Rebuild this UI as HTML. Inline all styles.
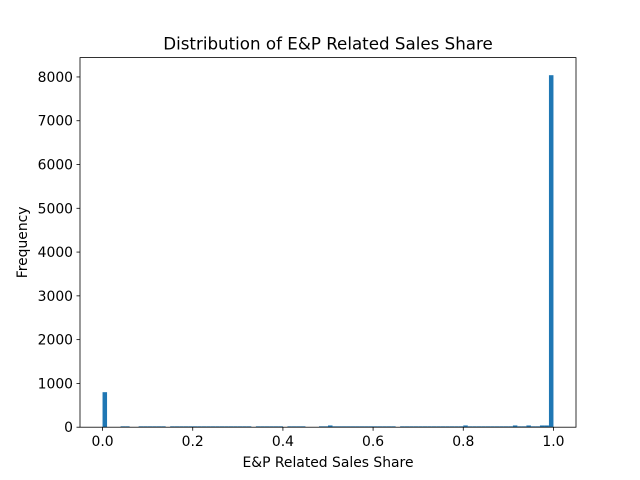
<!DOCTYPE html>
<html><head><meta charset="utf-8"><style>body{margin:0;background:#fff}svg{display:block}text{font-family:"DejaVu Sans","Liberation Sans",sans-serif;fill:#000}</style></head>
<body>
<svg id="chart" width="640" height="480" xmlns="http://www.w3.org/2000/svg"></svg>
<script>
const binCounts = [800,0,0,0,20,20,0,0,20,20,20,20,20,20,0,20,20,20,20,20,20,20,20,20,20,20,20,20,20,20,20,20,20,0,20,20,20,20,20,20,0,20,20,20,20,0,0,0,20,20,40,20,20,20,20,20,20,20,20,20,20,20,20,20,20,0,20,20,20,20,20,20,20,20,20,20,20,20,20,20,40,20,20,20,20,20,20,20,20,20,20,40,20,20,40,20,20,40,40,8040];
const xTicks = [0,0.2,0.4,0.6,0.8,1.0];
const xTickLabels = ["0.0","0.2","0.4","0.6","0.8","1.0"];
const yTicks = [0,1000,2000,3000,4000,5000,6000,7000,8000];
const L=80,R=576,T=57.6,B=427.2;
const xmin=-0.05,xmax=1.05;
const ymax=Math.max(...binCounts)*1.05;
const sx=v=>L+(v-xmin)/(xmax-xmin)*(R-L);
const sy=v=>B-v/ymax*(B-T);
const svg=document.getElementById('chart');
const NS='http://www.w3.org/2000/svg';
function mk(t,a,txt){const e=document.createElementNS(NS,t);for(const k in a)e.setAttribute(k,a[k]);if(txt!==undefined)e.textContent=txt;svg.appendChild(e);return e;}
const n=binCounts.length;
binCounts.forEach((c,i)=>{if(c<=0)return;const x0=sx(i/n),x1=sx((i+1)/n);
const r=mk('rect',{x:x0,y:sy(c),width:x1-x0,height:B-sy(c),fill:'#1f77b4'});

});
const f=mk('rect',{x:L,y:T,width:R-L,height:B-T,fill:'none',stroke:'#000','stroke-width':0.8});


xTicks.forEach((v,i)=>{const x=sx(v);mk('line',{x1:x,x2:x,y1:B,y2:B+3.5,stroke:'#000','stroke-width':0.8});
const t=mk('text',{x:x,y:B+19,'font-size':13.9,'text-anchor':'middle'},xTickLabels[i]);

});
yTicks.forEach(v=>{const y=sy(v);mk('line',{x1:L-3.5,x2:L,y1:y,y2:y,stroke:'#000','stroke-width':0.8});
const t=mk('text',{x:L-7,y:y+5,'font-size':13.9,'text-anchor':'end'},String(v));

});
const tt=mk('text',{x:(L+R)/2,y:T-8,'font-size':16.7,'text-anchor':'middle'},'Distribution of E&P Related Sales Share');


const xl=mk('text',{x:(L+R)/2,y:467,'font-size':13.9,'text-anchor':'middle'},'E&P Related Sales Share');


const yl=mk('text',{x:0,y:0,'font-size':13.9,'text-anchor':'middle',transform:`translate(27,${(T+B)/2}) rotate(-90)`},'Frequency');


</script>
</body></html>
